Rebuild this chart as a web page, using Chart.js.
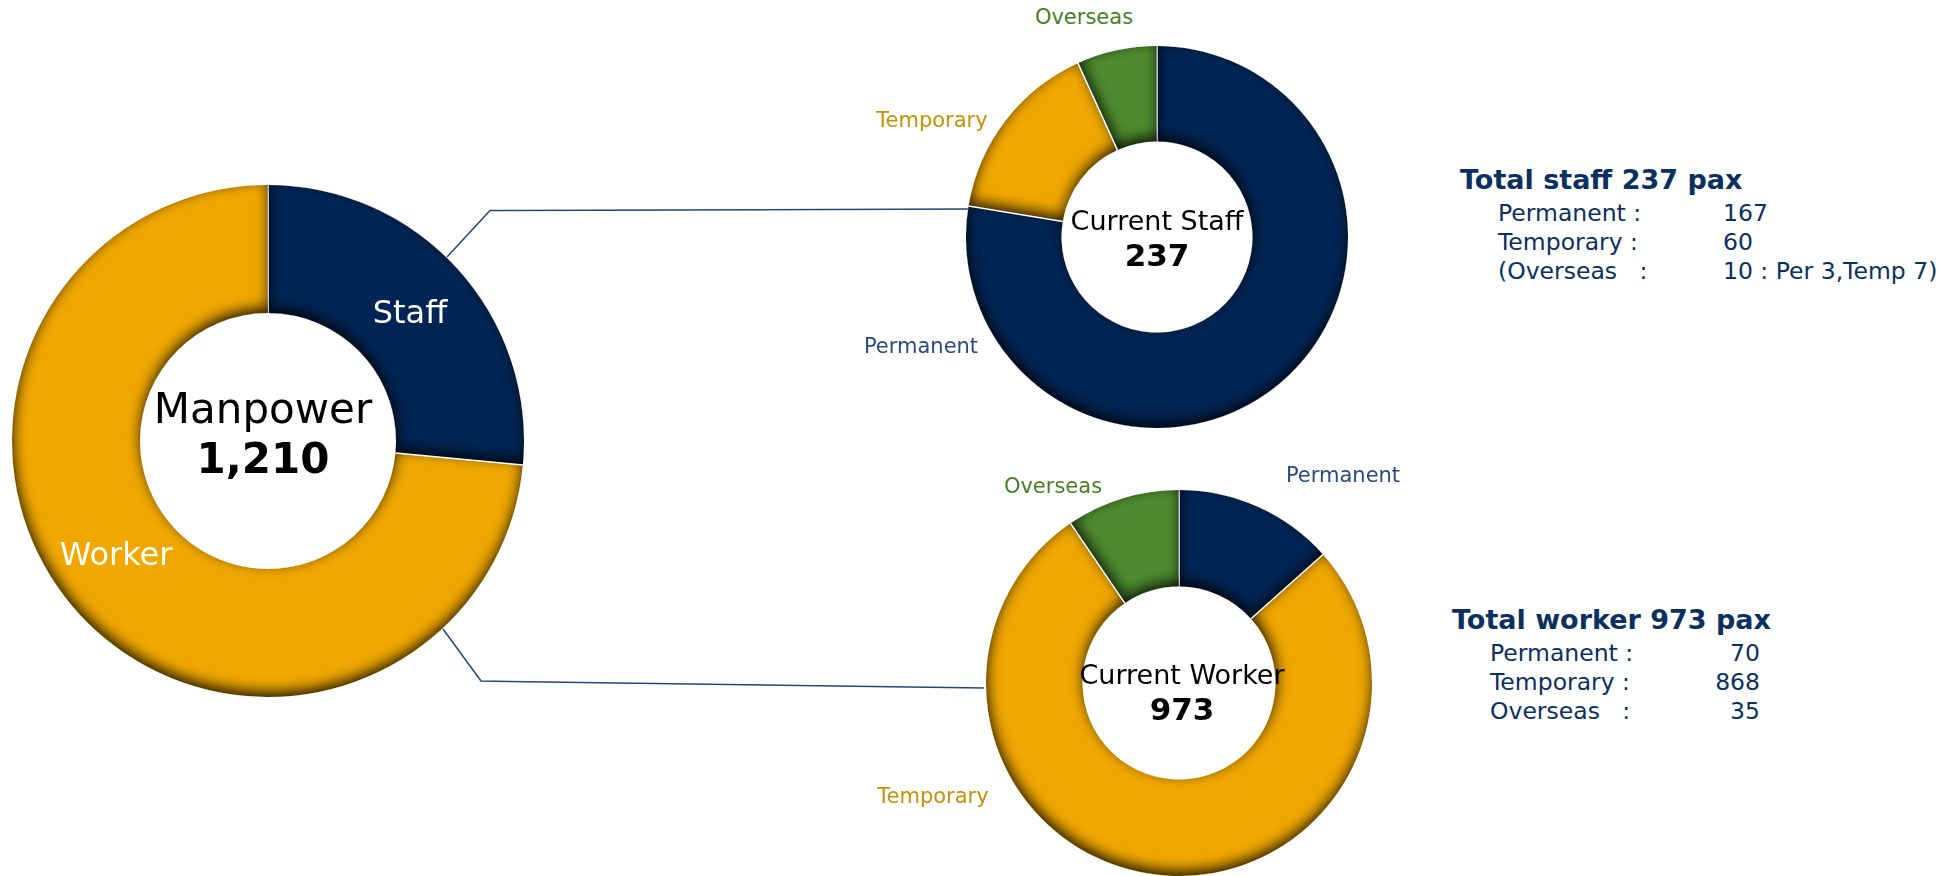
<!DOCTYPE html>
<html>
<head>
<meta charset="utf-8">
<script src="https://cdn.jsdelivr.net/npm/chart.js@4.4.1/dist/chart.umd.min.js"></script>
<style>
  html, body { margin: 0; padding: 0; background: #fff; }
  body { width: 1959px; height: 876px; position: relative; overflow: hidden; font-family: "DejaVu Sans", Verdana, sans-serif; }
  canvas { position: absolute; }
  .lbl { position: absolute; white-space: nowrap; transform: translate(-50%, -50%); line-height: 1; }
  .center { position: absolute; text-align: center; transform: translate(-50%, -50%); line-height: 1.2; color: #000; white-space: nowrap; }
  .block { position: absolute; color: #0b2f5e; white-space: nowrap; }
  .block .title { font-weight: bold; font-size: 27px; margin-bottom: 4px; }
  .block .row { font-size: 23.5px; height: 29px; position: relative; }
  .block .row span { position: absolute; top: 0; }
  svg { position: absolute; left: 0; top: 0; }
</style>
</head>
<body>
<svg width="1959" height="876">
  <polyline points="447,257 490,210.5 968,209" fill="none" stroke="#24467a" stroke-width="1.5" />
  <polyline points="443,629 481,681 984,688" fill="none" stroke="#24467a" stroke-width="1.5" />
</svg>

<canvas id="manpower" width="512" height="512" style="left:12px; top:185px;"></canvas>
<canvas id="staff" width="382" height="382" style="left:966px; top:46px;"></canvas>
<canvas id="worker" width="386" height="386" style="left:986px; top:490px;"></canvas>

<div id="labels"></div>

<script>
// nhóm tổng
const manpowerLabels = ["Staff", "Worker"];
const manpowerShare = [26.5, 73.5]; // % góc
const manpowerTotal = 1210;

// nhân viên
const staffLabels = ["Permanent", "Temporary", "Overseas"];
const staffShare = [77.6, 15.6, 6.8];
const staffCounts = [167, 60, 10];
const staffTotal = 237;

// công nhân
const workerLabels = ["Permanent", "Temporary", "Overseas"];
const workerShare = [13.4, 77.1, 9.5];
const workerCounts = [70, 868, 35];
const workerTotal = 973;

const NAVY = "#002554";
const GOLD = "#f0a800";
const GREEN = "#4e8b2e";
const sliceColors = { Staff: NAVY, Worker: GOLD, Permanent: NAVY, Temporary: GOLD, Overseas: GREEN };
const labelColors = { Permanent: "#2c4a7c", Temporary: "#c3900d", Overseas: "#4a7d2a" };

// bóng đổ bên trong từng miếng
const innerShadow = {
  id: "innerShadow",
  afterDatasetsDraw(chart) {
    const ctx = chart.ctx;
    chart.getDatasetMeta(0).data.forEach((arc) => {
      const p = arc.getProps(["x", "y", "startAngle", "endAngle", "innerRadius", "outerRadius"], true);
      const slicePath = () => {
        ctx.moveTo(p.x + p.outerRadius * Math.cos(p.startAngle), p.y + p.outerRadius * Math.sin(p.startAngle));
        ctx.arc(p.x, p.y, p.outerRadius, p.startAngle, p.endAngle);
        ctx.arc(p.x, p.y, p.innerRadius, p.endAngle, p.startAngle, true);
        ctx.closePath();
      };
      ctx.save();
      ctx.beginPath();
      slicePath();
      ctx.clip();
      ctx.beginPath();
      ctx.rect(p.x - p.outerRadius * 3, p.y - p.outerRadius * 3, p.outerRadius * 6, p.outerRadius * 6);
      slicePath();
      ctx.shadowColor = "rgba(0,0,0,0.85)";
      ctx.shadowBlur = 14;
      ctx.shadowOffsetX = 1;
      ctx.shadowOffsetY = -5;
      ctx.fillStyle = "#fff";
      ctx.fill("evenodd");
      ctx.restore();

      // đường trắng giữa các miếng
      ctx.save();
      ctx.beginPath();
      ctx.moveTo(p.x + p.innerRadius * Math.cos(p.startAngle), p.y + p.innerRadius * Math.sin(p.startAngle));
      ctx.lineTo(p.x + p.outerRadius * Math.cos(p.startAngle), p.y + p.outerRadius * Math.sin(p.startAngle));
      ctx.strokeStyle = "#fff";
      ctx.lineWidth = 1.5;
      ctx.stroke();
      ctx.restore();
    });
  },
};

function makeDonut(id, labels, values) {
  const ctx = document.getElementById(id).getContext("2d");
  return new Chart(ctx, {
    type: "doughnut",
    data: {
      labels: labels,
      datasets: [
        {
          data: values,
          backgroundColor: labels.map((l) => sliceColors[l]),
          borderWidth: 0,
          hoverOffset: 0,
        },
      ],
    },
    options: {
      responsive: false,
      animation: false,
      cutout: "50%",
      layout: { padding: 0 },
      plugins: {
        legend: { display: false },
        tooltip: { enabled: false },
      },
    },
    plugins: [innerShadow],
  });
}

makeDonut("manpower", manpowerLabels, manpowerShare);
makeDonut("staff", staffLabels, staffShare);
makeDonut("worker", workerLabels, workerShare);

// chữ
const labelsDiv = document.getElementById("labels");
function addLabel(text, x, y, size, color, cls) {
  const d = document.createElement("div");
  d.className = cls || "lbl";
  d.style.left = x + "px";
  d.style.top = y + "px";
  d.style.fontSize = size + "px";
  d.style.color = color;
  d.innerHTML = text;
  labelsDiv.appendChild(d);
}

addLabel(manpowerLabels[0], 410, 312, 32, "#fff");
addLabel(manpowerLabels[1], 116, 554, 32, "#fff");
addLabel(`Manpower<br><b>${manpowerTotal.toLocaleString("en-US")}</b>`, 263, 434, 42, "#000", "center");

addLabel(staffLabels[2], 1084, 17, 21, labelColors.Overseas);
addLabel(staffLabels[1], 932, 120, 21, labelColors.Temporary);
addLabel(staffLabels[0], 921, 346, 21, labelColors.Permanent);
addLabel(`<span style="font-size:27px">Current Staff</span><br><b style="font-size:31px">${staffTotal}</b>`, 1157, 240, 27, "#000", "center");

addLabel(workerLabels[2], 1053, 486, 21, labelColors.Overseas);
addLabel(workerLabels[0], 1343, 475, 21, labelColors.Permanent);
addLabel(workerLabels[1], 933, 796, 21, labelColors.Temporary);
addLabel(`<span style="font-size:27px">Current Worker</span><br><b style="font-size:31px">${workerTotal}</b>`, 1182, 694, 27, "#000", "center");

// khối tổng kết bên phải
function addBlock(x, y, title, rows, valueX, alignRight) {
  const b = document.createElement("div");
  b.className = "block";
  b.style.left = x + "px";
  b.style.top = y + "px";
  let html = `<div class="title">${title}</div>`;
  rows.forEach((r) => {
    const v = alignRight
      ? `<span style="left:${valueX - 120}px; width:120px; text-align:right">${r[1]}</span>`
      : `<span style="left:${valueX}px">${r[1]}</span>`;
    html += `<div class="row"><span style="left:${r[2]}px">${r[0]}</span>${v}</div>`;
  });
  b.innerHTML = html;
  labelsDiv.appendChild(b);
}

addBlock(1460, 164, `Total staff ${staffTotal} pax`, [
  ["Permanent :", staffCounts[0], 38],
  ["Temporary :", staffCounts[1], 38],
  ["(Overseas &nbsp;&nbsp;:", `${staffCounts[2]} : Per 3,Temp 7)`, 38],
], 263, false);

addBlock(1452, 604, `Total worker ${workerTotal} pax`, [
  ["Permanent :", workerCounts[0], 38],
  ["Temporary :", workerCounts[1], 38],
  ["Overseas &nbsp;&nbsp;:", workerCounts[2], 38],
], 308, true);
</script>
</body>
</html>
